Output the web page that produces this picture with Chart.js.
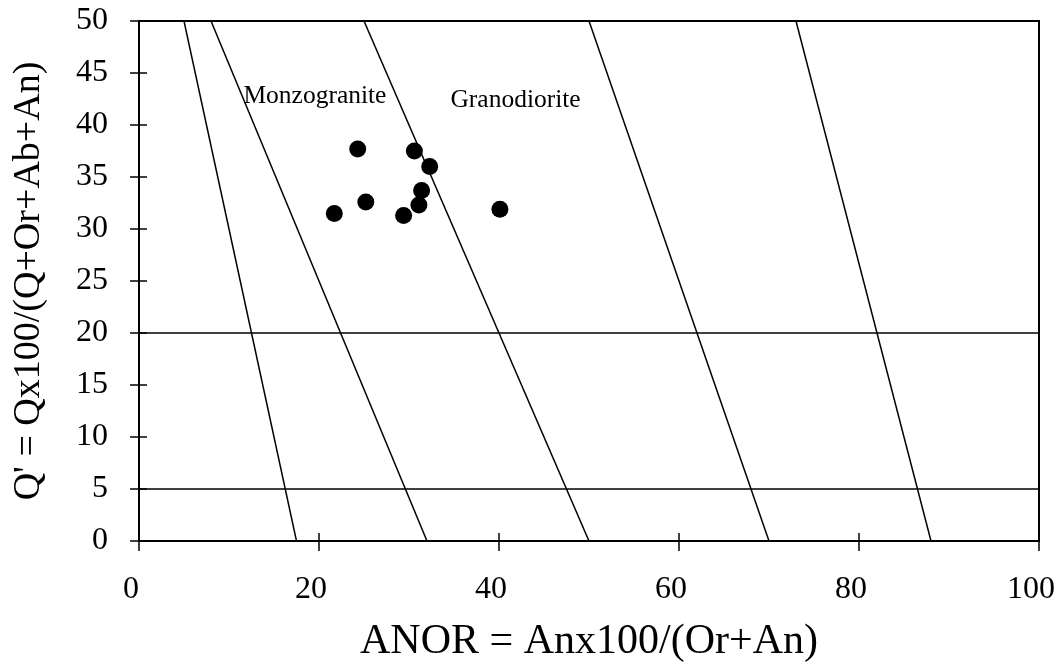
<!DOCTYPE html>
<html>
<head>
<meta charset="utf-8">
<script src="https://cdn.jsdelivr.net/npm/chart.js@4"></script>
<style>
html,body{margin:0;padding:0;background:#fff;}
#wrap{width:1058px;height:667px;}
</style>
</head>
<body>
<div id="wrap"><canvas id="c" width="1058" height="667"></canvas></div>
<script>
// Sample data
const anor = [24.3, 30.6, 32.3, 31.4, 31.1, 25.2, 21.7, 29.4, 40.1];
const qPrime = [37.7, 37.5, 36.0, 33.7, 32.3, 32.6, 31.5, 31.3, 31.9];
// Field boundaries: ANOR at Q'=50 (top) and Q'=0 (bottom)
const boundaryTopAnor = [5, 8, 25, 50, 73];
const boundaryBottomAnor = [17.5, 32, 50, 70, 88];
const boundaryTopQ = 50, boundaryBottomQ = 0;
// Horizontal boundaries
const horizontalQ = [5, 20];
const xRange = [0, 100];
const yRange = [0, 50];
const xTicks = [0, 20, 40, 60, 80, 100];
const yTicks = [0, 5, 10, 15, 20, 25, 30, 35, 40, 45, 50];
const fieldLabels = ["Monzogranite", "Granodiorite"];
const fieldLabelPos = [[11.6, 42.8], [34.6, 42.4]];

const FONT = "'Liberation Serif', 'Times New Roman', serif";

const datasets = [];
boundaryTopAnor.forEach((t, i) => {
  datasets.push({
    data: [{x: t, y: boundaryTopQ}, {x: boundaryBottomAnor[i], y: boundaryBottomQ}],
    showLine: true, borderColor: '#000', borderWidth: 1.5, pointRadius: 0, fill: false
  });
});
horizontalQ.forEach(q => {
  datasets.push({
    data: [{x: xRange[0], y: q}, {x: xRange[1], y: q}],
    showLine: true, borderColor: '#000', borderWidth: 1.5, pointRadius: 0, fill: false
  });
});
datasets.push({
  data: anor.map((a, i) => ({x: a, y: qPrime[i]})),
  showLine: false, pointRadius: 8.5, pointBackgroundColor: '#000', pointBorderColor: '#000', borderWidth: 0
});

const decor = {
  id: 'decor',
  afterDatasetsDraw(chart) {
    const ctx = chart.ctx, a = chart.chartArea;
    const xs = chart.scales.x, ys = chart.scales.y;
    ctx.save();
    ctx.strokeStyle = '#000';
    ctx.lineWidth = 2;
    ctx.strokeRect(a.left, a.top, a.right - a.left, a.bottom - a.top);
    ctx.lineWidth = 1.5;
    ctx.beginPath();
    yTicks.forEach(v => {
      const p = ys.getPixelForValue(v);
      ctx.moveTo(a.left - 9, p); ctx.lineTo(a.left + 8, p);
    });
    xTicks.forEach(v => {
      const p = xs.getPixelForValue(v);
      const up = (v === xRange[0] || v === xRange[1]) ? 0 : 8;
      ctx.moveTo(p, a.bottom - up); ctx.lineTo(p, a.bottom + 10);
    });
    ctx.stroke();
    ctx.fillStyle = '#000';
    ctx.font = "25.5px " + FONT;
    ctx.textAlign = 'left';
    ctx.textBaseline = 'middle';
    fieldLabels.forEach((t, i) => {
      ctx.fillText(t, xs.getPixelForValue(fieldLabelPos[i][0]), ys.getPixelForValue(fieldLabelPos[i][1]));
    });
    ctx.restore();
  }
};

new Chart(document.getElementById('c'), {
  type: 'scatter',
  data: { datasets },
  options: {
    responsive: false,
    animation: false,
    events: [],
    layout: { padding: { left: 0, right: 19, top: 21, bottom: 0 } },
    plugins: { legend: { display: false }, tooltip: { enabled: false } },
    scales: {
      x: {
        type: 'linear', min: xRange[0], max: xRange[1],
        afterBuildTicks: s => { s.ticks = xTicks.map(v => ({value: v})); },
        afterFit: s => { s.height = 126; s.paddingLeft = 0; s.paddingRight = 0; },
        grid: { display: false },
        border: { display: false },
        ticks: { color: '#000', font: { family: FONT, size: 32 }, padding: 21, labelOffset: -8, maxRotation: 0 },
        title: { display: true, text: 'ANOR = Anx100/(Or+An)', color: '#000', font: { family: FONT, size: 42 }, padding: { top: 1, bottom: 0 } }
      },
      y: {
        type: 'linear', min: yRange[0], max: yRange[1],
        afterBuildTicks: s => { s.ticks = yTicks.map(v => ({value: v})); },
        afterFit: s => { s.width = 139; s.paddingTop = 0; s.paddingBottom = 0; },
        grid: { display: false },
        border: { display: false },
        ticks: { color: '#000', font: { family: FONT, size: 32 }, padding: 23 },
        title: { display: true, text: "Q' = Qx100/(Q+Or+Ab+An)", color: '#000', font: { family: FONT, size: 38 }, padding: { top: 6, bottom: 0 } }
      }
    }
  },
  plugins: [decor]
});
</script>
</body>
</html>
